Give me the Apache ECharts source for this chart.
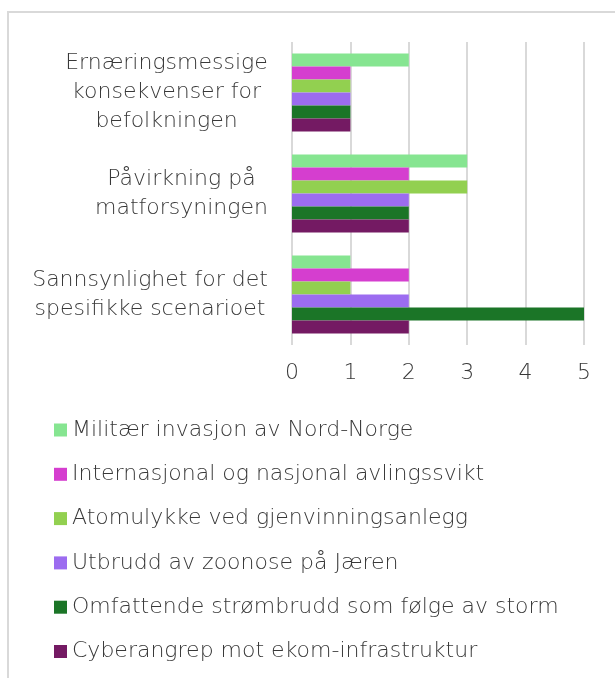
<!DOCTYPE html>
<html><head><meta charset="utf-8">
<script src="https://cdn.jsdelivr.net/npm/echarts@6/dist/echarts.min.js"></script>
<style>html,body{margin:0;padding:0;background:#fff}#c{width:615px;height:678px}</style>
</head><body><div id="c"></div>
<script>
const categories = ["Ernæringsmessige\nkonsekvenser for\nbefolkningen", "Påvirkning på\nmatforsyningen", "Sannsynlighet for det\nspesifikke scenarioet"];
const seriesNames = ["Militær invasjon av Nord-Norge", "Internasjonal og nasjonal avlingssvikt", "Atomulykke ved gjenvinningsanlegg", "Utbrudd av zoonose på Jæren", "Omfattende strømbrudd som følge av storm", "Cyberangrep mot ekom-infrastruktur"];
const militaer = [2, 3, 1];
const avlingssvikt = [1, 2, 2];
const atomulykke = [1, 3, 1];
const zoonose = [1, 2, 2];
const strombrudd = [1, 2, 5];
const cyberangrep = [1, 2, 2];
const seriesValues = [militaer, avlingssvikt, atomulykke, zoonose, strombrudd, cyberangrep];
const colors = ["#86E591", "#D53ECF", "#92D050", "#9C6CF0", "#1B7527", "#741A63"];
const fontFam = "'DejaVu Sans', sans-serif";
const fw = 200;
const fs = 22;
const textColor = '#383838';

const ctx = document.createElement('canvas').getContext('2d');
ctx.font = fw + ' ' + fs + 'px ' + fontFam;
const rich = {};
categories.forEach((c, i) => {
  const w = Math.max(...c.split('\n').map(l => ctx.measureText(l).width));
  rich['c' + i] = {width: Math.ceil(w), align: 'center', fontSize: fs, fontFamily: fontFam, fontWeight: fw, color: textColor, lineHeight: 29};
});

const chart = echarts.init(document.getElementById('c'), null, {renderer: 'canvas'});
chart.setOption({
  animation: false,
  color: colors,
  graphic: [{type: 'rect', shape: {x: 8, y: 12, width: 700, height: 800}, style: {fill: 'none', stroke: '#d9d9d9', lineWidth: 2}, silent: true}],
  grid: {left: 292, right: 31, top: 42, bottom: 333, containLabel: false},
  xAxis: {type: 'value', min: 0, max: 5, interval: 1,
    axisLine: {show: false}, axisTick: {show: false},
    splitLine: {show: true, lineStyle: {color: '#d9d9d9', width: 2}},
    axisLabel: {color: textColor, fontSize: fs, fontFamily: fontFam, fontWeight: fw, margin: 17}},
  yAxis: {type: 'category', data: categories, inverse: true,
    axisLine: {show: false}, axisTick: {show: false},
    axisLabel: {align: 'right', margin: 24, rich: rich,
      formatter: (v, i) => v.split('\n').map(l => '{c' + i + '|' + l + '}').join('\n')}},
  legend: {orient: 'vertical', left: 49, top: 413, itemWidth: 13, itemHeight: 13, itemGap: 20.3, icon: 'rect',
    textStyle: {color: textColor, fontSize: fs, fontFamily: fontFam, fontWeight: fw, lineHeight: 24}, data: seriesNames},
  series: seriesNames.map((n, i) => ({name: n, type: 'bar', data: seriesValues[i], barGap: '0%', barCategoryGap: '23%'}))
});
</script></body></html>
